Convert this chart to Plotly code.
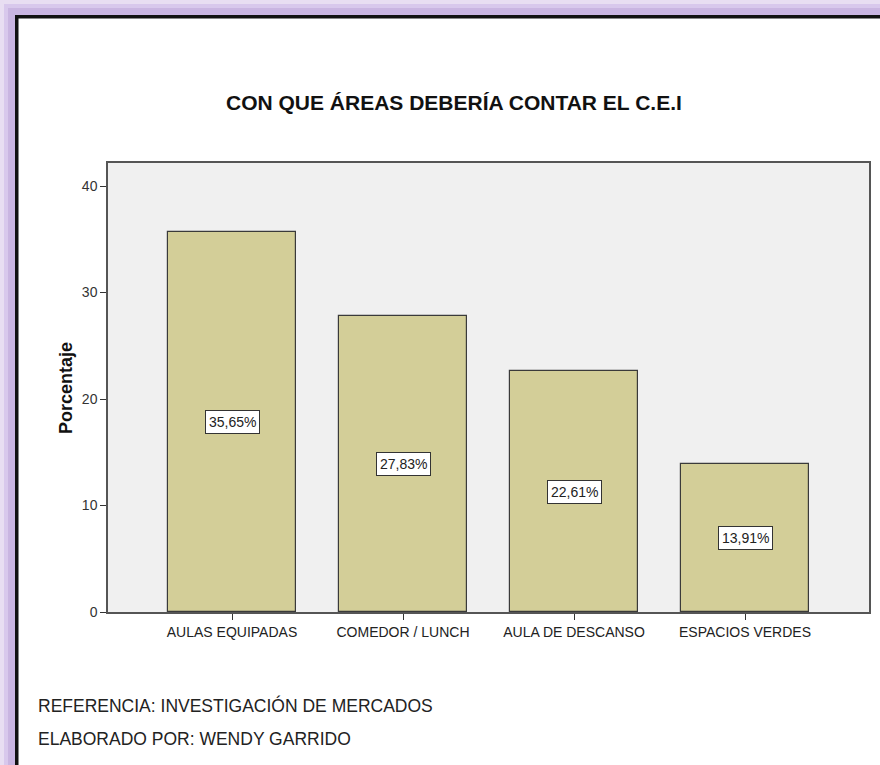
import plotly.graph_objects as go

categories = ["AULAS EQUIPADAS", "COMEDOR / LUNCH", "AULA DE DESCANSO", "ESPACIOS VERDES"]
values = [35.65, 27.83, 22.61, 13.91]
value_labels = ["35,65%", "27,83%", "22,61%", "13,91%"]
y_ticks = [0, 10, 20, 30, 40]

W, H = 880, 765
L, R, T, B = 108, 11, 163, 153
pw, ph = W - L - R, H - T - B
FONT = "Liberation Sans, Arial"

def px(x):
    return (x - L) / pw

def py(y):
    return (H - B - y) / ph

fig = go.Figure()
fig.add_trace(go.Bar(
    x=list(range(len(categories))), y=values, width=0.75,
    marker=dict(color="#D3CE98", line=dict(color="#3a3a3a", width=1.2)),
    hoverinfo="skip",
))

for i, (v, lab) in enumerate(zip(values, value_labels)):
    fig.add_annotation(x=i, y=v / 2, text=lab, showarrow=False,
                       font=dict(family=FONT, size=14, color="#222"),
                       bgcolor="white", bordercolor="#333", borderwidth=1, borderpad=3)

# title
fig.add_annotation(xref="paper", yref="paper", x=px(454), y=py(103), text="<b>CON QUE ÁREAS DEBERÍA CONTAR EL C.E.I</b>",
                   showarrow=False, font=dict(family=FONT, size=21, color="#111"),
                   xanchor="center", yanchor="middle")
# y-axis title
fig.add_annotation(xref="paper", yref="paper", x=px(66), y=py(388), text="<b>Porcentaje</b>", textangle=-90,
                   showarrow=False, font=dict(family=FONT, size=18, color="#111"),
                   xanchor="center", yanchor="middle")
# footer
fig.add_annotation(xref="paper", yref="paper", x=px(36), y=py(705), text="REFERENCIA: INVESTIGACIÓN DE MERCADOS",
                   showarrow=False, font=dict(family=FONT, size=17.5, color="#222"),
                   xanchor="left", yanchor="middle")
fig.add_annotation(xref="paper", yref="paper", x=px(36), y=py(739), text="ELABORADO POR: WENDY GARRIDO",
                   showarrow=False, font=dict(family=FONT, size=17.5, color="#222"),
                   xanchor="left", yanchor="middle")

# frame: lavender border with gradient and black line (left and top)
bands = [(0, 4, "#E8DEF2"), (4, 8, "#D8C8EC"), (8, 15, "#C9B5E1")]
for a, b, c in bands:
    fig.add_shape(type="rect", xref="paper", yref="paper", x0=px(a), x1=px(b), y0=py(H), y1=py(a),
                  fillcolor=c, line=dict(width=0), layer="above")
    fig.add_shape(type="rect", xref="paper", yref="paper", x0=px(a), x1=px(W), y0=py(b), y1=py(a),
                  fillcolor=c, line=dict(width=0), layer="above")
fig.add_shape(type="rect", xref="paper", yref="paper", x0=px(15), x1=px(18.5), y0=py(H), y1=py(15),
              fillcolor="#111", line=dict(width=0), layer="above")
fig.add_shape(type="rect", xref="paper", yref="paper", x0=px(15), x1=px(W), y0=py(18.5), y1=py(15),
              fillcolor="#111", line=dict(width=0), layer="above")

x0 = -(232 - L) / 171.0
fig.update_xaxes(range=[x0, x0 + pw / 171.0], tickvals=list(range(len(categories))), ticktext=categories,
                 ticks="outside", ticklen=6, tickcolor="#333", showline=True, linecolor="#555", linewidth=1.5,
                 mirror=True, showgrid=False, zeroline=False,
                 tickfont=dict(family=FONT, size=14, color="#222"))
fig.update_yaxes(range=[0, (H - B - T) / (426 / 40.0)], tickvals=y_ticks, ticks="outside", ticklen=6,
                 tickcolor="#333", showline=True, linecolor="#555", linewidth=1.5, mirror=True,
                 showgrid=False, zeroline=False,
                 tickfont=dict(family=FONT, size=14, color="#333"))

fig.update_layout(width=W, height=H, margin=dict(l=L, r=R, t=T, b=B, autoexpand=False),
                  paper_bgcolor="white", plot_bgcolor="#F0F0F0", showlegend=False, bargap=0)

fig.write_html("out.html", config={"displayModeBar": False},
               post_script="document.body.style.margin='0';document.body.style.overflow='hidden';")
